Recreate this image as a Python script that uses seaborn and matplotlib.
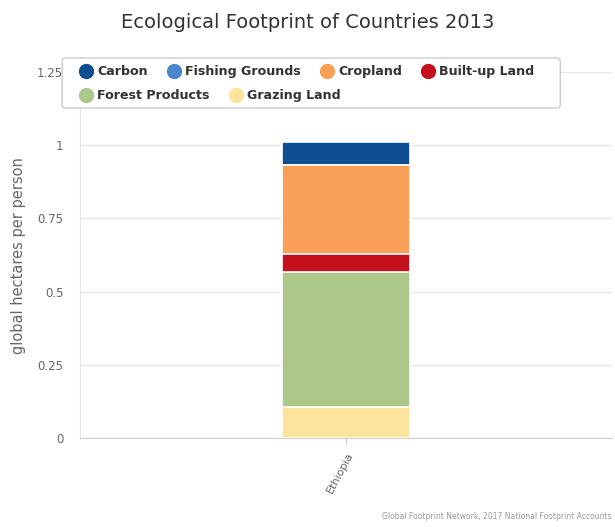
import pandas as pd
import numpy as np
from matplotlib import pyplot as plt
from matplotlib.patches import FancyBboxPatch
import seaborn as sns

# Ecological footprint of Ethiopia, 2013 (global hectares per person)
country = ["Ethiopia"]
components = ["Carbon", "Fishing Grounds", "Cropland", "Built-up Land", "Forest Products", "Grazing Land"]
values = [0.076, 0.002, 0.303, 0.062, 0.460, 0.107]
colors = ["#0f4d92", "#4a86c8", "#f99f57", "#c40f1c", "#abc78a", "#fde39b"]

# stacking order, bottom to top
stack_order = ["Grazing Land", "Forest Products", "Built-up Land", "Cropland", "Fishing Grounds", "Carbon"]

df = pd.DataFrame({"component": components, "value": values, "color": colors})
df = df.set_index("component").loc[stack_order].reset_index()
df["top"] = df["value"].cumsum()
df["country"] = country[0]

sns.set_style("white")
plt.rcParams["font.family"] = ["DejaVu Sans"]

fig = plt.figure(figsize=(6.15, 5.27), dpi=100)
ax = fig.add_axes([0.13, 0.169, 0.865, 0.694])

# draw tallest cumulative first so each lower segment overlays it
for _, row in df.iloc[::-1].iterrows():
    sns.barplot(data=pd.DataFrame({"country": [row["country"]], "top": [row["top"]]}),
                x="country", y="top", color=row["color"], width=0.24,
                edgecolor="white", linewidth=1.2, saturation=1, ax=ax, zorder=3)

ax.set_ylim(0, 1.25)
ax.set_xlim(-0.5, 0.5)
ax.set_yticks([0, 0.25, 0.5, 0.75, 1, 1.25])
ax.set_yticklabels(["0", "0.25", "0.5", "0.75", "1", "1.25"], fontsize=8.5, color="#666666")
ax.yaxis.grid(True, color="#e6e6e6", linewidth=1)
ax.set_axisbelow(True)
ax.tick_params(axis="y", length=0, pad=12)
ax.tick_params(axis="x", length=5, color="#cccccc", direction="out", bottom=True)
plt.setp(ax.get_xticklabels(), rotation=62, ha="right", rotation_mode="anchor",
         fontsize=8, color="#666666")
ax.set_xlabel("")
ax.set_ylabel("global hectares per person", fontsize=10.5, color="#666666", labelpad=8)
for s in ["top", "right"]:
    ax.spines[s].set_visible(False)
ax.spines["left"].set_color("#e6e6e6")
ax.spines["bottom"].set_color("#cccccc")

fig.suptitle("Ecological Footprint of Countries 2013", x=0.5, y=0.975,
             fontsize=14, color="#333333")

# legend box with two flowing rows, like the original
cmap = dict(zip(components, colors))
box = FancyBboxPatch((0.101, 0.795), 0.81, 0.095, transform=fig.transFigure,
                     boxstyle="round,pad=0,rounding_size=0.006",
                     facecolor="white", edgecolor="#cccccc", linewidth=1, zorder=5)
fig.patches.append(box)

rows = [["Carbon", "Fishing Grounds", "Cropland", "Built-up Land"],
        ["Forest Products", "Grazing Land"]]
anchors = [(0.124, 0.883), (0.124, 0.838)]
for labels, anchor in zip(rows, anchors):
    handles = [plt.Line2D([], [], marker="o", linestyle="", markersize=10,
                          markerfacecolor=cmap[c], markeredgecolor=cmap[c]) for c in labels]
    leg = fig.legend(handles, labels, loc="upper left", bbox_to_anchor=anchor,
                     ncol=len(labels), frameon=False, fontsize=9.1,
                     handletextpad=0.35, columnspacing=1.6, handlelength=1.0,
                     borderpad=0.3, borderaxespad=0)
    leg.set_zorder(6)
    for t in leg.get_texts():
        t.set_color("#333333")
        t.set_fontweight("bold")

fig.text(0.995, 0.012, "Global Footprint Network, 2017 National Footprint Accounts",
         fontsize=5.5, color="#999999", ha="right", va="bottom")

fig.savefig("out.png", dpi=100)
